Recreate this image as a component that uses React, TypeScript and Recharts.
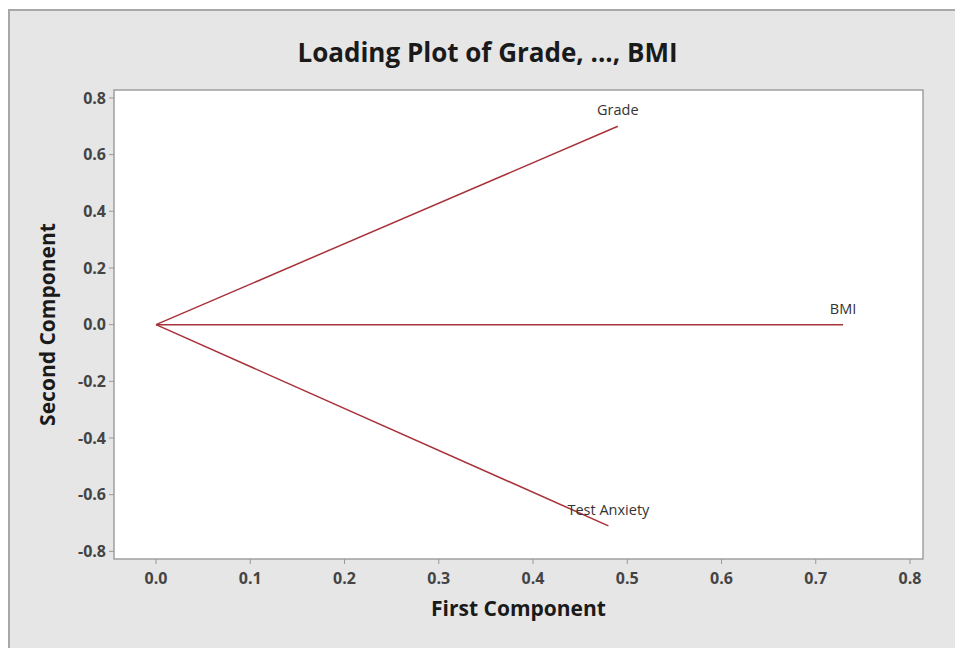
import { ComposedChart, Line, XAxis, YAxis, ReferenceArea, LabelList } from 'recharts';

// loadings
const variables = ['Grade', 'BMI', 'Test Anxiety'];
const firstComponent = [0.49, 0.729, 0.48];
const secondComponent = [0.70, 0.0, -0.71];

const xTicks = [0, 0.1, 0.2, 0.3, 0.4, 0.5, 0.6, 0.7, 0.8];
const yTicks = [-0.8, -0.6, -0.4, -0.2, 0, 0.2, 0.4, 0.6, 0.8];

const xDomain = [-0.0446, 0.8138];
const yDomain = [-0.827, 0.828];

const series = variables.map((name, i) => ({
  name,
  data: [
    { x: 0, y: 0 },
    { x: firstComponent[i], y: secondComponent[i], name },
  ],
}));

const font = '"Open Sans", "Noto Sans", sans-serif';
const lineColor = '#a8323a';

const EndLabel = (props: any) => {
  const { x, y, value } = props;
  if (!value) return null;
  return (
    <text x={x} y={y - 11} textAnchor="middle" fontFamily={font} fontSize={14.5} fill="#333">
      {value}
    </text>
  );
};

export default function App() {
  return (
    <div style={{ position: 'absolute', left: 0, top: 0, width: 955, height: 650, background: '#fff' }}>
      <div
        style={{
          position: 'absolute',
          left: 8,
          top: 9,
          width: 947,
          height: 639,
          background: '#e6e6e6',
          borderTop: '2px solid #a8a8a8',
          borderLeft: '2px solid #a8a8a8',
          boxSizing: 'border-box',
        }}
      />
      <div
        style={{
          position: 'absolute',
          left: 0,
          top: 32,
          width: 975,
          textAlign: 'center',
          fontFamily: font,
          fontWeight: 700,
          fontSize: 26,
          lineHeight: '40px',
          color: '#1a1a1a',
        }}
      >
        Loading Plot of Grade, ..., BMI
      </div>
      <div style={{ position: 'absolute', left: 0, top: 0 }}>
        <ComposedChart width={955} height={650} margin={{ top: 90, right: 32, bottom: 0, left: 0 }}>
          <XAxis
            type="number"
            dataKey="x"
            domain={xDomain}
            ticks={xTicks}
            allowDataOverflow
            tickFormatter={(v: number) => v.toFixed(1)}
            height={91}
            tickSize={5}
            tickMargin={9}
            axisLine={false}
            tickLine={{ stroke: '#999' }}
            tick={{ fontFamily: font, fontSize: 16, fontWeight: 700, fill: '#444' }}
            label={{
              value: 'First Component',
              position: 'insideBottom',
              offset: 34,
              style: { fontFamily: font, fontSize: 21, fontWeight: 700, fill: '#1a1a1a' },
            }}
          />
          <YAxis
            type="number"
            dataKey="y"
            domain={yDomain}
            ticks={yTicks}
            allowDataOverflow
            tickFormatter={(v: number) => v.toFixed(1)}
            width={114}
            tickSize={5}
            tickMargin={3}
            axisLine={false}
            tickLine={{ stroke: '#999' }}
            tick={{ fontFamily: font, fontSize: 16, fontWeight: 700, fill: '#444' }}
            label={{
              value: 'Second Component',
              angle: -90,
              position: 'insideLeft',
              offset: 48,
              style: { textAnchor: 'middle', fontFamily: font, fontSize: 21, fontWeight: 700, fill: '#1a1a1a' },
            }}
          />
          <ReferenceArea
            x1={xDomain[0]}
            x2={xDomain[1]}
            y1={yDomain[0]}
            y2={yDomain[1]}
            fill="#fff"
            fillOpacity={1}
            stroke="#a0a0a0"
            strokeWidth={1.5}
            ifOverflow="visible"
          />
          {series.map((s) => (
            <Line
              key={s.name}
              data={s.data}
              dataKey="y"
              stroke={lineColor}
              strokeWidth={1.5}
              dot={false}
              activeDot={false}
              isAnimationActive={false}
            >
              <LabelList dataKey="name" content={EndLabel} />
            </Line>
          ))}
        </ComposedChart>
      </div>
    </div>
  );
}
